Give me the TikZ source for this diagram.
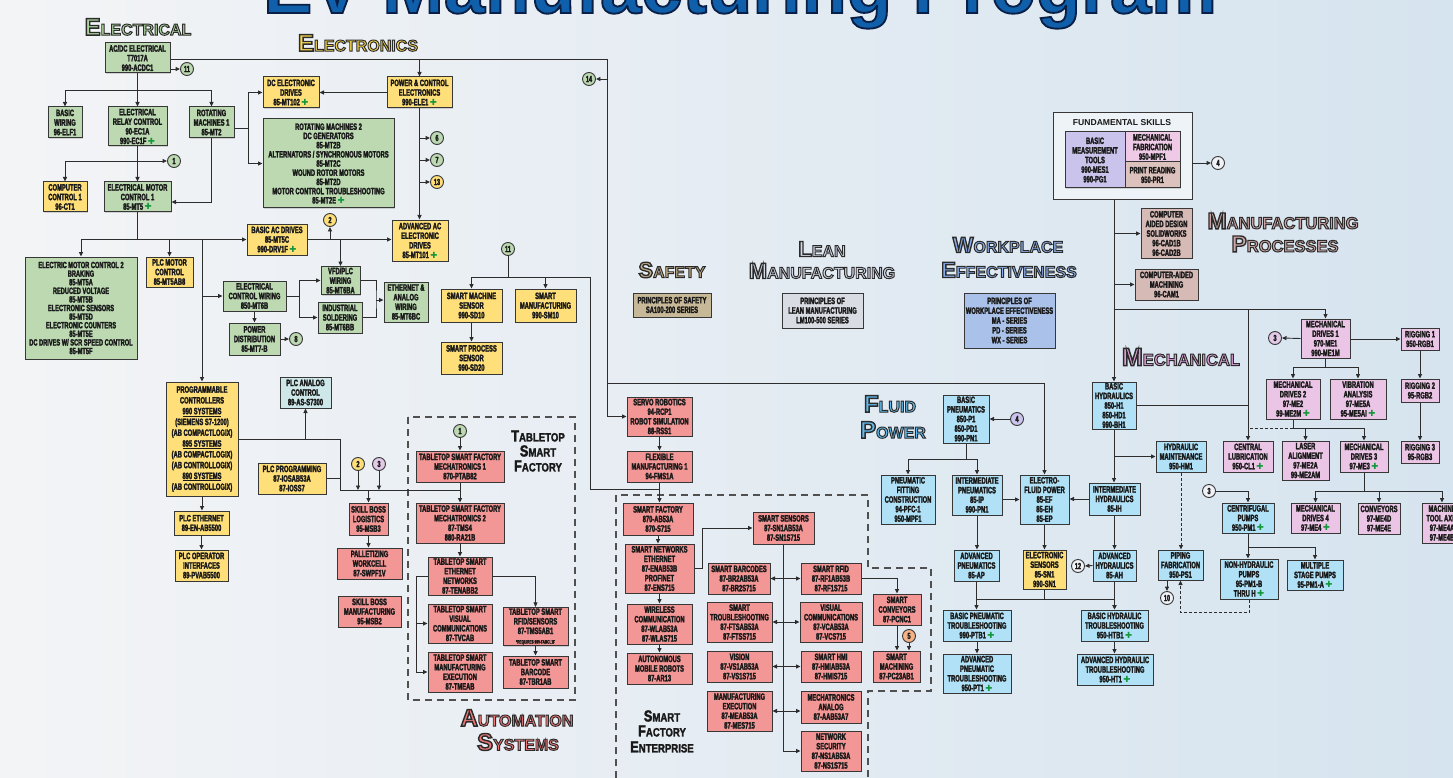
\documentclass[tikz,border=0pt]{standalone}
\usepackage{fontspec}
\setmainfont{Liberation Sans}
\newfontfamily\cf{Liberation Sans Bold}[FakeStretch=0.63,FakeBold=2.5]
\newfontfamily\hfo{Liberation Sans Bold}[FakeBold=6]
\newfontfamily\tfo{Liberation Sans Bold}[FakeBold=2.5]
\newfontfamily\hfp{Liberation Sans Bold}
\newfontfamily\hfn{Liberation Sans Bold}[FakeStretch=0.8,FakeBold=2]
\newfontfamily\djvfont{DejaVu Sans Bold}
\usetikzlibrary{arrows.meta,shadows,calc}
\definecolor{bgL}{RGB}{243,244,246}
\definecolor{bgR}{RGB}{214,228,239}
\definecolor{txt}{RGB}{25,25,25}
\definecolor{bline}{RGB}{55,55,55}
\definecolor{lnc}{RGB}{45,45,45}
\definecolor{gfill}{RGB}{188,217,178}
\definecolor{yfill}{RGB}{255,223,122}
\definecolor{rfill}{RGB}{243,150,150}
\definecolor{bfill}{RGB}{176,225,246}
\definecolor{mfill}{RGB}{234,197,229}
\definecolor{tfill}{RGB}{214,186,182}
\definecolor{sfill}{RGB}{199,184,152}
\definecolor{lfill}{RGB}{218,220,228}
\definecolor{wfill}{RGB}{170,194,234}
\definecolor{afill}{RGB}{206,232,234}
\definecolor{lavfill}{RGB}{202,196,236}
\definecolor{mffill}{RGB}{238,202,230}
\definecolor{prfill}{RGB}{220,194,188}
\definecolor{ofill}{RGB}{246,178,135}
\definecolor{pkfill}{RGB}{226,202,232}
\definecolor{wcfill}{RGB}{240,242,248}
\definecolor{plusg}{RGB}{20,150,60}
\definecolor{tblue}{RGB}{15,95,170}
\definecolor{hgreen}{RGB}{172,212,158}
\definecolor{hyellow}{RGB}{250,216,78}
\definecolor{hsafe}{RGB}{192,172,134}
\definecolor{hlean}{RGB}{212,216,230}
\definecolor{hwork}{RGB}{136,172,228}
\definecolor{hmfg}{RGB}{204,166,166}
\definecolor{hmech}{RGB}{220,160,216}
\definecolor{hfluid}{RGB}{96,188,240}
\definecolor{hauto}{RGB}{240,120,120}
\definecolor{dgray}{RGB}{80,80,80}
\newcommand\olc{\special{pdf:literal direct 0.17 0.17 0.17 RG}}
\newcommand\olt{\special{pdf:literal direct 0.04 0.12 0.27 RG}}
\newcommand\pl{\,{\djvfont\fontsize{8.5}{8.5}\selectfont\textcolor{plusg}{✚}}}
\newcommand\hdg[4]{{\fontsize{#3}{#3}\selectfont #1}{\fontsize{#4}{#4}\selectfont #2}}
\newcommand\bxn[7]{%
 \pgfmathsetmacro\myW{#5-#3}\pgfmathsetmacro\myH{#6-#4}%
 \pgfmathsetmacro\myX{(#3+#5)/2}\pgfmathsetmacro\myY{(#4+#6)/2}%
 \node[bx,#2,minimum width=\myW pt,minimum height=\myH pt] (#1) at (\myX,\myY) {#7};}
\newcommand\cir[5]{\node[cn,fill=#2] (#1) at (#3,#4) {#5};}
\begin{document}
\begin{tikzpicture}[x=1pt,y=-1pt,
 bx/.style={draw=bline,line width=1pt,align=center,inner sep=1pt,text=txt,
   font=\cf\fontsize{9.2}{9.6}\selectfont,
   drop shadow={shadow xshift=1.3pt,shadow yshift=-1.3pt,opacity=0.3}},
 gb/.style={fill=gfill}, yb/.style={fill=yfill}, rb/.style={fill=rfill},
 bb/.style={fill=bfill}, mb/.style={fill=mfill}, tb/.style={fill=tfill},
 sb/.style={fill=sfill}, lb/.style={fill=lfill}, wb/.style={fill=wfill},
 ab/.style={fill=afill}, lavb/.style={fill=lavfill}, mfb/.style={fill=mffill},
 prb/.style={fill=prfill},
 cn/.style={circle,draw=bline,line width=0.9pt,minimum size=13pt,inner sep=0pt,
   text=txt,font=\cf\fontsize{8.8}{8.8}\selectfont},
 ln/.style={draw=lnc,line width=0.9pt},
 ar/.style={ln,-{Triangle[length=4.5pt,width=4pt]}},
 ar2/.style={ln,{Triangle[length=4.5pt,width=4pt]}-{Triangle[length=4.5pt,width=4pt]}},
 dsh/.style={dash pattern=on 3pt off 2pt},
 dbox/.style={draw=dgray,line width=1.2pt,dash pattern=on 7pt off 5pt},
 hd/.style={inner sep=0pt,font=\hfo},
 hdn/.style={inner sep=0pt,font=\hfn,text=txt}]
\useasboundingbox (0,0) rectangle (1453,778);
\clip (0,0) rectangle (1453,778);
\shade[left color=bgL,right color=bgR] (0,0) rectangle (1453,778);

% title
\node[anchor=base,inner sep=0pt,text=tblue,font=\tfo\fontsize{74}{74}\selectfont] (title) at (740,13) {\olt EV Manufacturing Program};

% dashed group outlines
\draw[dbox] (408,417) rectangle (575,700);
\draw[dbox] (616,790) -- (616,495) -- (868,495) -- (868,568) -- (931,568) -- (931,691) -- (868,691) -- (868,790);

% headings
\node[hd,text=hgreen] (hElec) at (138,27) {\olc\hdg{E}{LECTRICAL}{24}{16}};
\node[hd,text=hyellow] (hElco) at (358,43) {\olc\hdg{E}{LECTRONICS}{24}{16}};
\node[hd,text=hsafe] (hSafe) at (672,270) {\olc\hdg{S}{AFETY}{22}{16}};
\node[hd,text=hlean] (hLean1) at (822,249) {\olc\hdg{L}{EAN}{22}{16}};
\node[hd,text=hlean] (hLean2) at (822,271) {\olc\hdg{M}{ANUFACTURING}{22}{16}};
\node[hd,text=hwork] (hWork1) at (1008,245) {\olc\hdg{W}{ORKPLACE}{22}{16}};
\node[hd,text=hwork] (hWork2) at (1009,270) {\olc\hdg{E}{FFECTIVENESS}{22}{16}};
\node[hd,text=hmfg] (hMfg1) at (1283,221) {\olc\hdg{M}{ANUFACTURING}{23}{16.5}};
\node[hd,text=hmfg] (hMfg2) at (1285,244) {\olc\hdg{P}{ROCESSES}{23}{16.5}};
\node[hd,text=hmech] (hMech) at (1181,357) {\olc\hdg{M}{ECHANICAL}{25}{16.5}};
\node[hd,text=hfluid] (hFl1) at (890,404) {\olc\hdg{F}{LUID}{24}{16}};
\node[hd,text=hfluid] (hFl2) at (893,430) {\olc\hdg{P}{OWER}{24}{16}};
\node[hd,text=hauto] (hAu1) at (517,718) {\olc\hdg{A}{UTOMATION}{24}{16}};
\node[hd,text=hauto] (hAu2) at (518,742) {\olc\hdg{S}{YSTEMS}{24}{16}};
\node[hdn] (hTT1) at (538,436) {\hdg{T}{ABLETOP}{16}{12}};
\node[hdn] (hTT2) at (538,451) {\hdg{S}{MART}{16}{12}};
\node[hdn] (hTT3) at (538,466) {\hdg{F}{ACTORY}{16}{12}};
\node[hdn] (hSF1) at (662,716) {\hdg{S}{MART}{16}{12}};
\node[hdn] (hSF2) at (662,731) {\hdg{F}{ACTORY}{16}{12}};
\node[hdn] (hSF3) at (662,747) {\hdg{E}{NTERPRISE}{16}{12}};

% ---------- electrical / electronics ----------
\bxn{acdc}{gb}{105}{43}{170}{73}{AC/DC ELECTRICAL\\T7017A\\990-ACDC1}
\bxn{bw}{gb}{48}{107}{82}{138}{BASIC\\WIRING\\96-ELF1}
\bxn{erc}{gb}{108}{107}{167}{146}{ELECTRICAL\\RELAY CONTROL\\90-EC1A\\990-EC1F\pl}
\bxn{rm1}{gb}{189}{107}{234}{138}{ROTATING\\MACHINES 1\\85-MT2}
\bxn{cc1}{yb}{43}{182}{87}{212}{COMPUTER\\CONTROL 1\\96-CT1}
\bxn{emc1}{gb}{104}{182}{171}{212}{ELECTRICAL MOTOR\\CONTROL 1\\85-MT5\pl}
\bxn{dcd}{yb}{263}{77}{319}{108}{DC ELECTRONIC\\DRIVES\\85-MT102\pl}
\bxn{pce}{yb}{387}{77}{452}{108}{POWER \& CONTROL\\ELECTRONICS\\990-ELE1\pl}
\bxn{rm2}{gb,font=\cf\fontsize{9.2}{9.2}\selectfont}{263}{119}{394}{208}{ROTATING MACHINES 2\\DC GENERATORS\\85-MT2B\\ALTERNATORS / SYNCHRONOUS MOTORS\\85-MT2C\\WOUND ROTOR MOTORS\\85-MT2D\\MOTOR CONTROL TROUBLESHOOTING\\85-MT2E\pl}
\bxn{aac}{yb}{392}{220}{448}{261}{ADVANCED AC\\ELECTRONIC\\DRIVES\\85-MT101\pl}
\bxn{bacd}{yb}{247}{224}{307}{255}{BASIC AC DRIVES\\85-MT5C\\990-DRV1F\pl}
\bxn{emc2}{gb,font=\cf\fontsize{9}{8.6}\selectfont}{25}{257}{137}{359}{ELECTRIC MOTOR CONTROL 2\\BRAKING\\85-MT5A\\REDUCED VOLTAGE\\85-MT5B\\ELECTRONIC SENSORS\\85-MT5D\\ELECTRONIC COUNTERS\\85-MT5E\\DC DRIVES W/ SCR SPEED CONTROL\\85-MT5F}
\bxn{plcm}{yb}{146}{257}{193}{287}{PLC MOTOR\\CONTROL\\85-MT5AB8}
\bxn{ecw}{gb}{223}{281}{286}{311}{ELECTRICAL\\CONTROL WIRING\\850-MT6B}
\bxn{vfd}{gb}{321}{267}{360}{294}{VFD/PLC\\WIRING\\85-MT6BA}
\bxn{isol}{gb}{318}{302}{362}{333}{INDUSTRIAL\\SOLDERING\\85-MT6BB}
\bxn{eaw}{gb}{384}{282}{428}{322}{ETHERNET \&\\ANALOG\\WIRING\\85-MT6BC}
\bxn{pd}{gb}{229}{323}{280}{355}{POWER\\DISTRIBUTION\\85-MT7-B}
\bxn{pc}{yb,font=\cf\fontsize{9.2}{10.8}\selectfont}{166}{382}{238}{496}{PROGRAMMABLE\\CONTROLLERS\\\underline{990 SYSTEMS}\\(SIEMENS S7-1200)\\(AB COMPACTLOGIX)\\\underline{895 SYSTEMS}\\(AB COMPACTLOGIX)\\(AB CONTROLLOGIX)\\\underline{890 SYSTEMS}\\(AB CONTROLLOGIX)}
\bxn{plca}{ab}{280}{377}{331}{408}{PLC ANALOG\\CONTROL\\89-AS-S7300}
\bxn{plcp}{yb}{258}{463}{326}{494}{PLC PROGRAMMING\\87-IOSAB53A\\87-IOSS7}
\bxn{plce}{yb}{174}{511}{229}{535}{PLC ETHERNET\\89-EN-AB5500}
\bxn{plcoi}{yb}{175}{550}{228}{581}{PLC OPERATOR\\INTERFACES\\89-PVAB5500}

% ---------- automation ----------
\bxn{sbl}{rb}{349}{503}{388}{535}{SKILL BOSS\\LOGISTICS\\95-MSB3}
\bxn{pal}{rb}{337}{548}{402}{579}{PALLETIZING\\WORKCELL\\87-SWPF1V}
\bxn{sbm}{rb}{338}{596}{401}{627}{SKILL BOSS\\MANUFACTURING\\95-MSB2}
\bxn{tm1}{rb}{416}{451}{504}{482}{TABLETOP SMART FACTORY\\MECHATRONICS 1\\870-PTAB82}
\bxn{tm2}{rb}{416}{503}{504}{543}{TABLETOP SMART FACTORY\\MECHATRONICS 2\\87-TMS4\\880-RA21B}
\bxn{ten}{rb}{428}{557}{492}{595}{TABLETOP SMART\\ETHERNET\\NETWORKS\\87-TENABB2}
\bxn{tvc}{rb}{428}{604}{492}{643}{TABLETOP SMART\\VISUAL\\COMMUNICATIONS\\87-TVCAB}
\bxn{tme}{rb}{428}{652}{492}{692}{TABLETOP SMART\\MANUFACTURING\\EXECUTION\\87-TMEAB}
\bxn{rfid}{rb}{503}{608}{568}{645}{TABLETOP SMART\\RFID/SENSORS\\87-TMS5AB1\\{\fontsize{5}{5}\selectfont *REQUIRES 990-FABCL1F}}
\bxn{tbc}{rb}{503}{656}{568}{688}{TABLETOP SMART\\BARCODE\\87-TBR1AB}
\bxn{sms}{yb}{441}{289}{502}{322}{SMART MACHINE\\SENSOR\\990-SD10}
\bxn{smf}{yb}{515}{289}{576}{322}{SMART\\MANUFACTURING\\990-SM10}
\bxn{sps}{yb}{441}{342}{502}{374}{SMART PROCESS\\SENSOR\\990-SD20}

% ---------- safety / lean / workplace ----------
\bxn{saf}{sb}{633}{293}{711}{317}{PRINCIPLES OF SAFETY\\SA100-200 SERIES}
\bxn{lean}{lb}{782}{293}{863}{328}{PRINCIPLES OF\\LEAN MANUFACTURING\\LM100-500 SERIES}
\bxn{wpe}{wb,font=\cf\fontsize{9.2}{9.8}\selectfont}{964}{293}{1055}{348}{PRINCIPLES OF\\WORKPLACE EFFECTIVENESS\\MA - SERIES\\PD - SERIES\\WX - SERIES}

% ---------- smart factory enterprise ----------
\bxn{servo}{rb}{627}{397}{692}{436}{SERVO ROBOTICS\\94-RCP1\\ROBOT SIMULATION\\88-RSS1}
\bxn{fms}{rb}{627}{451}{692}{482}{FLEXIBLE\\MANUFACTURING 1\\94-FMS1A}
\bxn{sf}{rb}{623}{503}{693}{535}{SMART FACTORY\\870-AB53A\\870-S715}
\bxn{sn}{rb}{625}{544}{694}{593}{SMART NETWORKS\\ETHERNET\\87-ENAB53B\\PROFINET\\87-ENS715}
\bxn{wc}{rb}{627}{604}{692}{644}{WIRELESS\\COMMUNICATION\\87-WLAB53A\\87-WLAS715}
\bxn{amr}{rb}{627}{653}{692}{684}{AUTONOMOUS\\MOBILE ROBOTS\\87-AR13}
\bxn{ss}{rb}{753}{512}{814}{544}{SMART SENSORS\\87-SN1AB53A\\87-SN1S715}
\bxn{sbc}{rb}{708}{563}{770}{594}{SMART BARCODES\\87-BR2AB53A\\87-BR2S715}
\bxn{stb}{rb}{707}{602}{772}{642}{SMART\\TROUBLESHOOTING\\87-FTSAB53A\\87-FTSS715}
\bxn{vis}{rb}{707}{651}{772}{682}{VISION\\87-VS1AB53A\\87-VS1S715}
\bxn{mex}{rb}{707}{691}{772}{731}{MANUFACTURING\\EXECUTION\\87-MEAB53A\\87-MES715}
\bxn{srf}{rb}{801}{563}{861}{594}{SMART RFID\\87-RF1AB53B\\87-RF1S715}
\bxn{vcm}{rb}{800}{602}{862}{642}{VISUAL\\COMMUNICATIONS\\87-VCAB53A\\87-VCS715}
\bxn{hmi}{rb}{801}{651}{861}{682}{SMART HMI\\87-HMIAB53A\\87-HMIS715}
\bxn{mta}{rb}{801}{691}{861}{723}{MECHATRONICS\\ANALOG\\87-AAB53A7}
\bxn{ns}{rb}{801}{731}{861}{771}{NETWORK\\SECURITY\\87-NS1AB53A\\87-NS1S715}
\bxn{scv}{rb}{873}{594}{921}{625}{SMART\\CONVEYORS\\87-PCNC1}
\bxn{smc}{rb}{873}{651}{920}{682}{SMART\\MACHINING\\87-PC23AB1}

% ---------- fluid power ----------
\bxn{bp}{bb}{943}{395}{989}{443}{BASIC\\PNEUMATICS\\850-P1\\850-PD1\\990-PN1}
\bxn{pfc}{bb}{881}{475}{935}{524}{PNEUMATIC\\FITTING\\CONSTRUCTION\\94-PFC-1\\950-MPF1}
\bxn{ip}{bb}{952}{475}{1002}{515}{INTERMEDIATE\\PNEUMATICS\\85-IP\\990-PN1}
\bxn{efp}{bb}{1020}{475}{1069}{524}{ELECTRO-\\FLUID POWER\\85-EF\\85-EH\\85-EP}
\bxn{ap}{bb}{954}{550}{999}{581}{ADVANCED\\PNEUMATICS\\85-AP}
\bxn{es}{yb}{1023}{550}{1066}{589}{ELECTRONIC\\SENSORS\\85-SN1\\990-SN1}
\bxn{bpt}{bb}{943}{610}{1011}{641}{BASIC PNEUMATIC\\TROUBLESHOOTING\\990-PTB1\pl}
\bxn{apt}{bb}{943}{654}{1011}{693}{ADVANCED\\PNEUMATIC\\TROUBLESHOOTING\\950-PT1\pl}
\bxn{bh}{bb}{1092}{382}{1136}{429}{BASIC\\HYDRAULICS\\850-H1\\850-HD1\\990-BH1}
\bxn{hm}{bb}{1156}{441}{1206}{472}{HYDRAULIC\\MAINTENANCE\\950-HM1}
\bxn{ih}{bb}{1089}{483}{1140}{515}{INTERMEDIATE\\HYDRAULICS\\85-IH}
\bxn{ah}{bb}{1093}{550}{1136}{581}{ADVANCED\\HYDRAULICS\\85-AH}
\bxn{pf}{bb}{1158}{550}{1203}{580}{PIPING\\FABRICATION\\950-PS1}
\bxn{bht}{bb}{1081}{610}{1148}{641}{BASIC HYDRAULIC\\TROUBLESHOOTING\\950-HTB1\pl}
\bxn{aht}{bb}{1077}{654}{1153}{685}{ADVANCED HYDRAULIC\\TROUBLESHOOTING\\950-HT1\pl}
\bxn{cp}{bb}{1222}{503}{1274}{533}{CENTRIFUGAL\\PUMPS\\950-PM1\pl}
\bxn{nhp}{bb}{1220}{559}{1278}{599}{NON-HYDRAULIC\\PUMPS\\95-PM1-B\\THRU H\pl}
\bxn{msp}{bb}{1287}{560}{1343}{590}{MULTIPLE\\STAGE PUMPS\\95-PM1-A\pl}

% ---------- fundamental skills / manufacturing / mechanical ----------
\node[draw=bline,line width=0.9pt,fill=white,fill opacity=0.5,minimum width=139pt,minimum height=87pt,inner sep=0pt] (fs) at (1122.5,155.5) {};
\node[inner sep=0pt,text=txt,font=\hfp\fontsize{8.6}{8.6}\selectfont] (fst) at (1122,123) {FUNDAMENTAL SKILLS};
\bxn{bmt}{lavb}{1065}{132}{1125}{188}{BASIC\\MEASUREMENT\\TOOLS\\990-MES1\\990-PG1}
\bxn{mf}{mfb}{1125}{132}{1180}{162}{MECHANICAL\\FABRICATION\\950-MPF1}
\bxn{pr}{prb}{1125}{162}{1180}{188}{PRINT READING\\950-PR1}
\bxn{cad}{tb}{1141}{209}{1192}{258}{COMPUTER\\AIDED DESIGN\\SOLIDWORKS\\96-CAD1B\\96-CAD2B}
\bxn{cam}{tb}{1135}{269}{1198}{300}{COMPUTER-AIDED\\MACHINING\\96-CAM1}
\bxn{md1}{mb}{1301}{319}{1350}{358}{MECHANICAL\\DRIVES 1\\970-ME1\\990-ME1M}
\bxn{rg1}{mb}{1401}{328}{1439}{350}{RIGGING 1\\950-RGB1}
\bxn{rg2}{mb}{1401}{379}{1439}{402}{RIGGING 2\\95-RGB2}
\bxn{rg3}{mb}{1401}{441}{1439}{463}{RIGGING 3\\95-RGB3}
\bxn{md2}{mb}{1266}{379}{1320}{419}{MECHANICAL\\DRIVES 2\\97-ME2\\99-ME2M\pl}
\bxn{va}{mb}{1330}{379}{1386}{419}{VIBRATION\\ANALYSIS\\97-ME5A\\95-ME5AI\pl}
\bxn{cl}{mb}{1223}{441}{1273}{472}{CENTRAL\\LUBRICATION\\950-CL1\pl}
\bxn{la}{mb}{1282}{441}{1329}{480}{LASER\\ALIGNMENT\\97-ME2A\\99-ME2AM}
\bxn{md3}{mb}{1340}{441}{1388}{472}{MECHANICAL\\DRIVES 3\\97-ME3\pl}
\bxn{md4}{mb}{1291}{503}{1340}{533}{MECHANICAL\\DRIVES 4\\97-ME4\pl}
\bxn{conv}{mb}{1358}{503}{1400}{534}{CONVEYORS\\97-ME4D\\97-ME4E}
\bxn{mtx}{mb}{1422}{503}{1462}{543}{MACHINE\\TOOL AXIS\\97-ME4A\\97-ME4B}

% ---------- circles ----------
\cir{c11a}{gfill}{187}{69}{11}
\cir{c14}{gfill}{589}{79}{14}
\cir{c6}{gfill}{437}{138}{6}
\cir{c7}{gfill}{437}{160}{7}
\cir{c13}{yfill}{437}{182}{13}
\cir{c1a}{gfill}{174}{161}{1}
\cir{c2a}{yfill}{330}{220}{2}
\cir{c8}{gfill}{296}{339}{8}
\cir{c11b}{gfill}{508}{249}{11}
\cir{c1b}{gfill}{460}{431}{1}
\cir{c2b}{yfill}{358}{464}{2}
\cir{c3a}{pkfill}{379}{464}{3}
\cir{c5}{ofill}{909}{636}{5}
\cir{c4a}{wcfill}{1218}{163}{4}
\cir{c4b}{lavfill}{1017}{419}{4}
\cir{c3b}{pkfill}{1275}{338}{3}
\cir{c3c}{wcfill}{1209}{491}{3}
\cir{c10}{wcfill}{1167}{598}{10}
\cir{c12}{wcfill}{1078}{566}{12}

% ---------- named junctions ----------
\coordinate (jR) at (607,59);
\coordinate (jR2) at (607,383);
\coordinate (jA) at (248,128);
\coordinate (y202) at (0,202);
\coordinate (jB) at (137.5,239.5);
\coordinate (jC) at (299,296);
\coordinate (jD) at (376,300);
\coordinate (jE) at (340,439);
\coordinate (jF) at (340,490);
\coordinate (jH) at (508,277);
\coordinate (jH2) at (590,489);
\coordinate (y599) at (0,599);
\coordinate (y309) at (0,309);
\coordinate (y547) at (0,547);

% ---------- connectors: electrical / electronics ----------
\draw[ar] (acdc.east|-jR) -- (jR) |- (servo.west);
\draw[ar] (pce.north|-jR) -- (pce.north);
\draw[ar] (jR|-c14) -- (c14.east);
\draw[ar] (jR2) -| (efp.north);
\draw[ar] (acdc.east|-c11a) -- (c11a.west);
\draw[ln] (acdc.south) -- ++(0,17) coordinate (jT);
\draw[ar] (jT) -| (bw.north);
\draw[ar] (jT) -| (rm1.north);
\draw[ar] (acdc.south) -- (acdc.south|-erc.north);
\draw[ar] (erc.south) -- (erc.south|-emc1.north);
\draw[ar] (erc.south|-c1a) -| (cc1.north);
\draw[ar] (erc.south|-c1a) -- (c1a.west);
\draw[ar] (rm1.south) |- (emc1.east|-y202);
\draw[ln] (rm1.east|-jA) -- (jA);
\draw[ar] (jA) |- (dcd.west);
\draw[ar] (jA) |- (rm2.west);
\draw[ar] (pce.west) -- (dcd.east);
\draw[ar] (pce.south) -- (pce.south|-aac.north);
\draw[ar] (pce.south|-c6) -- (c6.west);
\draw[ar] (pce.south|-c7) -- (c7.west);
\draw[ar] (pce.south|-c13) -- (c13.west);
\draw[ln] (emc1.south) -- (jB);
\draw[ar] (jB) -| (emc2.north);
\draw[ar] (jB) -| (plcm.north);
\draw[ar] (jB) -- (bacd.west);
\draw[ar] (jB-|pc.north) -- (pc.north);
\draw[ar] (pc.north|-ecw.west) -- (ecw.west);
\draw[ar] (bacd.east) -- (bacd.east-|aac.west);
\draw[ar] (bacd.east-|c2a) -- (c2a.south);
\draw[ar] (bacd.east-|vfd.north) -- (vfd.north);
\draw[ln] (ecw.east) -- (ecw.east-|jC);
\draw[ar] (jC) |- (vfd.west);
\draw[ar] (jC) |- (isol.west);
\draw[ln] (vfd.east) -| (jD) |- (isol.east);
\draw[ar] (jD) -- (jD-|eaw.west);
\draw[ar] (ecw.south) -- (ecw.south|-pd.north);
\draw[ar] (pd.east) -- (c8.west);
\draw[ar] (pc.south) -- (pc.south|-plce.north);
\draw[ar] (plce.south) -- (plce.south|-plcoi.north);
\draw[ln] (pc.east) -- (jE) -- (jF) -- (jF-|tm1.south);
\draw[ar] (jE-|plca.south) -- (plca.south);
\draw[ln] (plcp.east) -- (plcp.east-|jF);
\draw[ar] (jF-|sbl.north) -- (sbl.north);
\draw[ar] (c2b.south) -- (c2b.south|-jF);
\draw[ar] (c3a.south) -- (c3a.south|-jF);

% ---------- connectors: automation ----------
\draw[ar] (c1b.south) -- (c1b.south|-tm1.north);
\draw[ar] (tm1.south) -- (tm1.south|-tm2.north);
\draw[ar] (tm2.south) -- (tm2.south|-ten.north);
\draw[ar] (ten.west) -- ++(-11,0) coordinate (jG) |- (tme.west);
\draw[ar] (jG|-tvc.west) -- (tvc.west);
\draw[ar] (ten.east) -| (rfid.north);
\draw[ar] (rfid.south) -- (rfid.south|-tbc.north);
\draw[ar] (sbl.south) -- (sbl.south|-pal.north);
\draw[ln] (c11b.south) -- (jH);
\draw[ar] (jH) -| (sms.north);
\draw[ar] (jH) -| (smf.north);
\draw[ln] (jH) -| (jH2) -- (jH2-|fms.south);
\draw[ar] (sms.south) -- (sms.south|-sps.north);

% ---------- connectors: smart factory ----------
\draw[ar] (servo.south) -- (servo.south|-fms.north);
\draw[ar] (fms.south) -- (fms.south|-sf.north);
\draw[ar] (sf.south) -- (sf.south|-sn.north);
\draw[ar] (sn.south) -- (sn.south|-wc.north);
\draw[ar] (wc.south) -- (wc.south|-amr.north);
\draw[ar] (sn.east) -- ++(8,0) |- (ss.west);
\draw[ar] (ss.south) |- (ns.west);
\draw[ar2] (sbc.east) -- (sbc.east-|srf.west);
\draw[ar2] (stb.east) -- (stb.east-|vcm.west);
\draw[ar2] (vis.east) -- (vis.east-|hmi.west);
\draw[ar2] (mex.east) -- (mex.east-|mta.west);
\draw[ar] (srf.east) -| (scv.north);
\draw[ar] (scv.south) -- (scv.south|-smc.north);
\draw[ar] (c5.south) -- (c5.south|-smc.north);

% ---------- connectors: fluid power ----------
\draw[ar] (c4b.west) -- (bp.east);
\draw[ln] (bp.south) -- ++(0,16) coordinate (jI);
\draw[ar] (jI) -| (pfc.north);
\draw[ar] (jI) -| (ip.north);
\draw[ar] (ip.east|-efp.west) -- (efp.west);
\draw[ar] (ih.west) -- (ih.west-|efp.east);
\draw[ar] (ip.south) -- (ip.south|-ap.north);
\draw[ar] (efp.south) -- (efp.south|-es.north);
\draw[ar] (ap.south) -- (ap.south|-bpt.north);
\draw[ln] (es.south) -- (es.south|-y599);
\draw[ar] (ap.south|-y599) -| (bht.north);
\draw[ar] (bpt.south) -- (bpt.south|-apt.north);
\draw[ar] (ah.west) -- (c12.east);
\draw[ar] (bh.south) -- (bh.south|-ih.north);
\draw[ar] (bh.south|-hm.west) -- (hm.west);
\draw[ar] (ih.south) -- (ih.south|-ah.north);
\draw[ar] (ah.south) -- (ah.south|-bht.north);
\draw[ar] (bht.south) -- (bht.south|-aht.north);
\draw[ar,dsh] (hm.south) -- (hm.south|-pf.north);
\draw[ar] (pf.south-|c10) -- (c10.north);
\draw[ar,dsh] (nhp.south) -- ++(0,13) -| (pf.south);

% ---------- connectors: fundamental / mechanical ----------
\draw[ar] (fs.east|-c4a) -- (c4a.west);
\draw[ar] (bh.north|-fs.south) -- (bh.north);
\draw[ar] (bh.north|-cad.west) -- (cad.west);
\draw[ar] (bh.north|-cam.west) -- (cam.west);
\draw[ar] (bh.north|-y309) -| (md1.north);
\draw[ar] (cl.north|-y309) -- (cl.north);
\draw[ln] (bh.east) -- (bh.east-|cl.north);
\draw[ar] (md1.west) -- (c3b.east);
\draw[ar] (md1.east|-rg1.west) -- (rg1.west);
\draw[ln] (md1.south) -- ++(0,9) coordinate (jM);
\draw[ar] (jM) -| (md2.north);
\draw[ar] (jM) -| (va.north);
\draw[ln] (md2.south) -- ++(0,9) coordinate (jN);
\draw[ar] (jN) -| (la.north);
\draw[ar] (jN) -| (md3.north);
\draw[ln,dsh] (jN) -- (jN-|cl.north);
\draw[ln] (md3.south) -- ++(0,19) coordinate (jO);
\draw[ar] (jO) -| (md4.north);
\draw[ar] (jO) -| (conv.north);
\draw[ar] (jO) -| (mtx.north);
\draw[ar] (rg1.south) -- (rg1.south|-rg2.north);
\draw[ar] (rg2.south) -- (rg2.south|-rg3.north);
\draw[ar] (c3c.east) -| (cp.north);
\draw[ar] (cp.south) -- (cp.south|-nhp.north);
\draw[ar] (cp.south|-y547) -| (msp.north);
\end{tikzpicture}
\end{document}
